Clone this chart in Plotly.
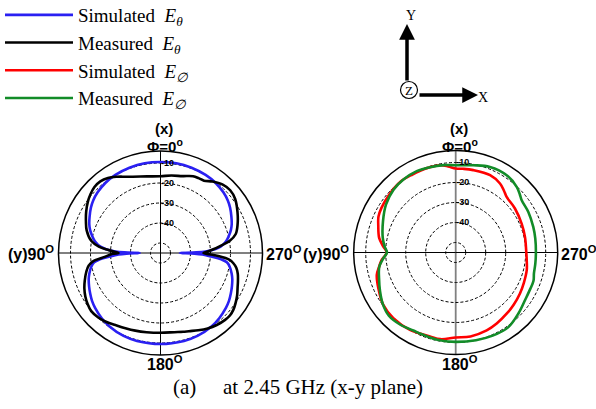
import plotly.graph_objects as go

W, H = 596, 409

# ---------------- data (dB vs azimuth, degrees) ----------------
sim_theta_t = [0, 10, 20, 30, 38, 46, 52, 57, 63, 68, 72, 76, 80, 84, 86, 88, 89, 90,
               91, 92, 94, 96, 98, 101, 106, 110, 115, 120, 125, 130, 138, 145, 156, 165, 180,
               195, 204, 215, 222, 230, 235, 240, 245, 250, 254, 259, 262, 264, 266, 268, 269, 270,
               271, 272, 274, 276, 280, 284, 288, 292, 297, 303, 308, 314, 322, 330, 340, 350, 360]
sim_e_theta = [-9.5, -9.4, -9.6, -9.9, -10.4, -11.3, -12.3, -13.5, -15.2, -16.6, -18.0, -19.8, -21.8, -24.8, -27.8, -32.5, -37.0, -44.7,
               -38.0, -34.0, -29.5, -24.5, -21.5, -19.8, -18.0, -16.8, -15.6, -14.4, -13.2, -12.3, -11.1, -10.3, -9.6, -9.5, -9.5,
               -9.5, -9.6, -10.3, -11.1, -12.3, -13.2, -14.4, -15.6, -16.8, -18.0, -19.8, -21.5, -24.5, -29.5, -34.0, -38.0, -45.3,
               -37.0, -32.5, -27.8, -24.8, -21.8, -19.8, -18.0, -16.6, -15.2, -13.5, -12.3, -11.3, -10.4, -9.9, -9.6, -9.4, -9.5]

meas_theta_t = [0, 10, 20, 25, 30, 35, 40, 45, 50, 55, 61, 67, 73, 80, 84, 86.5, 89, 90,
                91, 94, 97, 100, 104, 110, 115, 120, 125, 130, 136, 142, 148, 155, 162, 170, 180,
                190, 196, 200, 206, 212, 218, 224, 228, 232, 236, 241, 246, 250, 255, 259, 262, 264.5, 267, 268.5, 270,
                272, 274, 277, 280, 284, 290, 298, 306, 312, 318, 324, 329, 333, 337, 344, 352, 360]
meas_e_theta = [-16.6, -16.1, -14.4, -12.9, -11.0, -9.2, -8.2, -8.3, -9.3, -10.6, -12.5, -14.5, -16.4, -19.8, -24.0, -28.5, -33.0, -34.0,
                -31.0, -27.0, -21.0, -18.5, -16.8, -14.7, -13.0, -11.6, -10.5, -9.8, -10.2, -11.2, -12.5, -13.5, -14.2, -14.8, -15.1,
                -14.8, -14.0, -13.4, -12.0, -10.5, -9.3, -8.5, -8.3, -8.8, -9.8, -11.2, -12.8, -13.8, -15.0, -16.4, -18.2, -20.5, -26.0, -30.5, -33.5,
                -31.0, -28.5, -24.5, -19.8, -16.3, -14.0, -11.4, -8.9, -8.1, -8.8, -10.8, -12.8, -13.0, -13.3, -15.0, -15.9, -16.6]

sim_theta_p = [0, 5, 10, 20, 29, 38, 49, 59, 65, 70.4, 79.4, 85.3, 90, 95.7, 100.7, 105.8, 114.8, 125.9, 136.5,
               149.4, 163, 170, 180, 190, 201.7, 210, 220, 228, 237.5, 246, 256, 263, 270, 282.7, 293.7,
               306.6, 317.5, 322, 327.3, 336, 348, 355, 360]
sim_e_phi = [-13.0, -11.8, -10.7, -10.4, -10.4, -10.1, -10.9, -11.7, -12.4, -13.9, -16.1, -18.7, -20.5, -17.8, -16.0, -14.0, -12.4, -10.3, -9.7,
             -10.05, -11.1, -11.0, -12.5, -12.4, -13.1, -14.0, -15.2, -16.0, -16.9, -17.7, -18.4, -19.2, -19.7, -19.5, -19.0,
             -18.1, -17.3, -15.8, -14.0, -12.7, -12.9, -13.0, -13.0]

meas_theta_p = [0, 8, 16.7, 25.6, 35.6, 44.7, 55.4, 66.6, 78.6, 85, 90, 95, 100.7, 108.4, 117.1, 125.5, 133.4,
                142.3, 151.5, 160.9, 169.9, 180, 193, 204, 215, 226, 236, 244, 250, 255, 262, 270, 280,
                288.3, 299.2, 308.4, 312, 317.1, 326.6, 338.2, 348.6, 360]
meas_e_phi = [-11.35, -10.9, -10.45, -9.9, -10.1, -10.8, -12.7, -15.4, -17.8, -19.3, -20.6, -18.5, -16.1, -14.6, -12.5, -10.3, -9.0,
              -9.5, -10.6, -10.7, -10.4, -10.3, -10.0, -9.5, -9.3, -11.3, -13.0, -13.5, -13.6, -14.5, -14.8, -14.9, -14.6,
              -14.15, -13.4, -12.9, -11.8, -10.2, -8.7, -8.9, -10.5, -11.35]

radial_ticks = [-50, -40, -30, -20, -10]
radial_labels = ["", "-40", "-30", "-20", "-10"]
r_range = [-55, -4]

names = ["Simulated\u00a0 <i>E</i><sub><i>θ</i></sub>",
         "Measured\u00a0 <i>E</i><sub><i>θ</i></sub>",
         "Simulated\u00a0 <i>E</i><sub><i>∅</i></sub>",
         "Measured\u00a0 <i>E</i><sub><i>∅</i></sub>"]
colors = ["#2a20f2", "#000000", "#ff0000", "#128c28"]

# ---------------- layout geometry (pixels) ----------------
R = 102
C1 = (160.5, 253.0)
C2 = (455.7, 252.5)

def px(x):
    return x / W

def py(y):
    return 1 - y / H

def dom(c):
    return dict(x=[px(c[0] - R), px(c[0] + R)], y=[py(c[1] + R), py(c[1] - R)])

fig = go.Figure()
series = [(sim_theta_t, sim_e_theta, "polar"), (meas_theta_t, meas_e_theta, "polar"),
          (sim_theta_p, sim_e_phi, "polar2"), (meas_theta_p, meas_e_phi, "polar2")]
for i, (th, rr, sp) in enumerate(series):
    fig.add_trace(go.Scatterpolar(
        theta=th, r=rr, mode="lines", subplot=sp, name=names[i],
        legendgroup=f"g{i}",
        line=dict(color=colors[i], width=2.6, shape="spline", smoothing=1.0),
        hoverinfo="skip"))

def radial():
    return dict(range=r_range, tickvals=radial_ticks, ticktext=radial_labels,
                showline=False, ticks="", angle=90, side="clockwise", tickangle=90,
                tickfont=dict(family="Liberation Sans", size=9, color="#000000", weight="bold"),
                showgrid=True, gridcolor="#000000", gridwidth=0.8, griddash="3px,2px")

def angular(vals):
    return dict(rotation=90, direction="counterclockwise", tickvals=vals,
                showticklabels=False, ticks="", showgrid=True, gridcolor="#000000",
                gridwidth=1.2, showline=True, linecolor="#000000", linewidth=1.5)

fig.update_layout(
    width=W, height=H, margin=dict(l=0, r=0, t=0, b=0, autoexpand=False),
    paper_bgcolor="white",
    polar=dict(domain=dom(C1), bgcolor="rgba(0,0,0,0)", radialaxis=radial(),
               angularaxis=angular([0, 90, 180, 270])),
    polar2=dict(domain=dom(C2), bgcolor="rgba(0,0,0,0)", radialaxis=radial(),
                angularaxis=angular([90, 270])),
    showlegend=True,
    legend=dict(x=0.0, y=1.0 + 4 / H, xanchor="left", yanchor="top", bgcolor="rgba(0,0,0,0)",
                font=dict(family="Liberation Serif", size=19, color="#000000"),
                tracegroupgap=0, itemwidth=68),
)

# gray 0/180 axis line of the right chart
fig.add_shape(type="line", xref="paper", yref="paper", layer="below",
              x0=px(C2[0]), x1=px(C2[0]), y0=py(C2[1] + R), y1=py(C2[1] - R),
              line=dict(color="#808080", width=1.8))

lab = dict(family="Liberation Sans", size=16, color="#000000")
ann = []
def A(text, x, y, xa="center", font=lab):
    ann.append(dict(text=text, x=px(x), y=py(y), xref="paper", yref="paper",
                    xanchor=xa, yanchor="middle", showarrow=False, font=font))

for c in (C1, C2):
    A("<b>(x)</b>", c[0] + 3, 129, font=dict(lab, size=15))
    A("<b>Φ=0<sup>o</sup></b>", c[0] + 4, 145, font=dict(lab, size=15))
    A("<b>(y)90<sup>O</sup></b>", c[0] - R - 3, c[1], xa="right")
    A("<b>270<sup>O</sup></b>", c[0] + R + 1, c[1], xa="left")
    A("<b>180<sup>O</sup></b>", c[0] + 4, 363)

serif = dict(family="Liberation Serif", size=14, color="#000000")
A("Y", 411, 16, font=serif)
A("X", 483, 97, font=serif)
A("Z", 409, 90.5, font=dict(serif, size=13))
cap = dict(family="Liberation Serif", size=21, color="#000000")
A("(a)", 171, 387, xa="left", font=cap)
A("at 2.45 GHz (x-y plane)", 221, 387, xa="left", font=cap)

# coordinate-system arrows
ann.append(dict(x=px(407), y=py(24), xref="paper", yref="paper", ax=0, ay=58,
                text="", showarrow=True, arrowhead=2, arrowsize=0.9, arrowwidth=3.5,
                arrowcolor="#000000"))
ann.append(dict(x=px(478), y=py(95), xref="paper", yref="paper", ax=-60, ay=0,
                text="", showarrow=True, arrowhead=2, arrowsize=0.9, arrowwidth=3.5,
                arrowcolor="#000000"))
fig.update_layout(annotations=ann)
fig.add_shape(type="circle", xref="paper", yref="paper",
              x0=px(400.5), x1=px(417.5), y0=py(98.5), y1=py(81.5),
              line=dict(color="#000000", width=1.2), fillcolor="white")

fig.write_html("out.html", config={"displayModeBar": False},
               post_script="document.body.style.margin='0px';document.body.style.overflow='hidden';")
